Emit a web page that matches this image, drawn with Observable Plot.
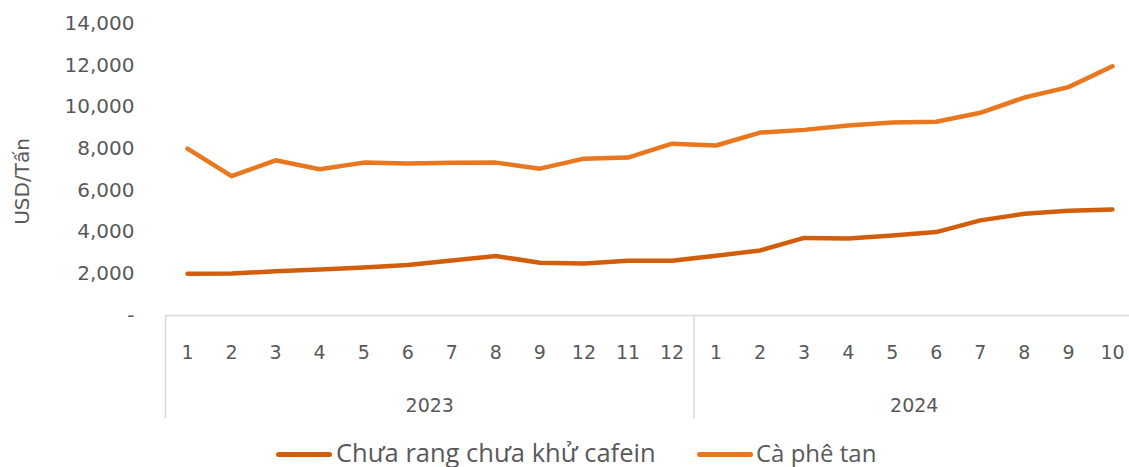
<!DOCTYPE html>
<html>
<head>
<meta charset="utf-8">
<script src="https://cdn.jsdelivr.net/npm/d3@7"></script>
<script src="https://cdn.jsdelivr.net/npm/@observablehq/plot@0.6"></script>
<style>
  body { margin: 0; background: #fff; }
  #chart svg { display: block; }
  #legend { position: relative; width: 1129px; height: 37px; }
  .item { position: absolute; top: 8px; height: 29px; display: flex; align-items: center; }
  .sw { position: absolute; height: 5px; border-radius: 3px; }
  .lbl { font-family: "Open Sans", sans-serif; color: #595959; white-space: nowrap; line-height: 1; }
</style>
</head>
<body>
<div id="chart"></div>
<div id="legend"></div>
<script>
// ---- data ----
const months = [1, 2, 3, 4, 5, 6, 7, 8, 9, 12, 11, 12, 1, 2, 3, 4, 5, 6, 7, 8, 9, 10];
const years = [2023, 2023, 2023, 2023, 2023, 2023, 2023, 2023, 2023, 2023, 2023, 2023,
               2024, 2024, 2024, 2024, 2024, 2024, 2024, 2024, 2024, 2024];
const seriesNames = ["Chưa rang chưa khử cafein", "Cà phê tan"];
const chuaRang = [2000, 2010, 2120, 2200, 2300, 2420, 2640, 2850, 2530, 2490, 2620, 2630,
                  2870, 3120, 3720, 3690, 3840, 4000, 4560, 4880, 5020, 5080];
const caPheTan = [8000, 6680, 7440, 7010, 7330, 7290, 7320, 7330, 7040, 7520, 7570, 8240,
                  8150, 8770, 8900, 9110, 9250, 9290, 9720, 10450, 10950, 11950];
const yTicks = [0, 2000, 4000, 6000, 8000, 10000, 12000, 14000];
const yLabel = "USD/Tấn";
const colors = ["#D25E0C", "#E8771F"];

// ---- derived tables ----
const rows = months.map((m, i) => ({i, month: m, year: years[i]}));
const long = [];
[chuaRang, caPheTan].forEach((arr, s) => arr.forEach((v, i) => long.push({i, value: v, series: seriesNames[s]})));
const yearGroups = d3.groups(rows, d => d.year).map(([year, rs]) => ({
  year, start: rs[0].i - 0.5, end: rs[rs.length - 1].i + 0.5, mid: (rs[0].i + rs[rs.length - 1].i) / 2
}));
const bounds = [yearGroups[0].start, ...yearGroups.map(g => g.end)];

const W = 1129, H = 430, mL = 165, mT = 23, mB = 115;
const frameH = H - mT - mB;

const plot = Plot.plot({
  width: W,
  height: H,
  marginLeft: mL,
  marginRight: 0,
  marginTop: mT,
  marginBottom: mB,
  style: {fontFamily: "DejaVu Sans, sans-serif", fontSize: "19px", color: "#595959", background: "#fff"},
  x: {type: "linear", axis: null, domain: [-0.5, months.length - 0.5], range: [mL, 1134]},
  y: {domain: [0, 14000]},
  color: {domain: seriesNames, range: colors},
  marks: [
    Plot.axisY(yTicks, {
      tickSize: 0, tickPadding: 31, label: null,
      tickFormat: d => d === 0 ? "-" : d3.format(",")(d),
      fontSize: 20, fill: "#595959"
    }),
    Plot.text([yLabel], {
      frameAnchor: "left", textAnchor: "middle", lineAnchor: "middle",
      rotate: -90, dx: -143, dy: 12, fontSize: 20, fill: "#595959"
    }),
    Plot.ruleY([0], {stroke: "#d9d9d9", strokeWidth: 1.5}),
    Plot.ruleX(bounds, {x: d => d, insetTop: frameH, insetBottom: -103, stroke: "#d9d9d9", strokeWidth: 1.5}),
    Plot.text(rows, {x: "i", text: d => String(d.month), frameAnchor: "bottom", dy: 37,
      lineAnchor: "middle", fontSize: 19, fill: "#595959"}),
    Plot.text(yearGroups, {x: "mid", text: d => String(d.year), frameAnchor: "bottom", dy: 90,
      lineAnchor: "middle", fontSize: 19, fill: "#595959"}),
    Plot.line(long, {x: "i", y: "value", stroke: "series", z: "series", strokeWidth: 4.5,
      strokeLinejoin: "round", strokeLinecap: "round"})
  ]
});
document.getElementById("chart").append(plot);

// ---- legend ----
const legend = document.getElementById("legend");
const legendLayout = [
  {sw: 276, text: 336, size: 25.5},
  {sw: 697, text: 756, size: 24}
];
seriesNames.forEach((name, k) => {
  const L = legendLayout[k];
  const sw = document.createElement("div");
  sw.className = "sw";
  sw.style.left = L.sw + "px";
  sw.style.width = "56px";
  sw.style.top = "22px";
  sw.style.background = colors[k];
  legend.append(sw);
  const it = document.createElement("div");
  it.className = "item";
  it.style.left = L.text + "px";
  const t = document.createElement("span");
  t.className = "lbl";
  t.style.fontSize = L.size + "px";
  t.textContent = name;
  it.append(t);
  legend.append(it);
});
</script>
</body>
</html>
